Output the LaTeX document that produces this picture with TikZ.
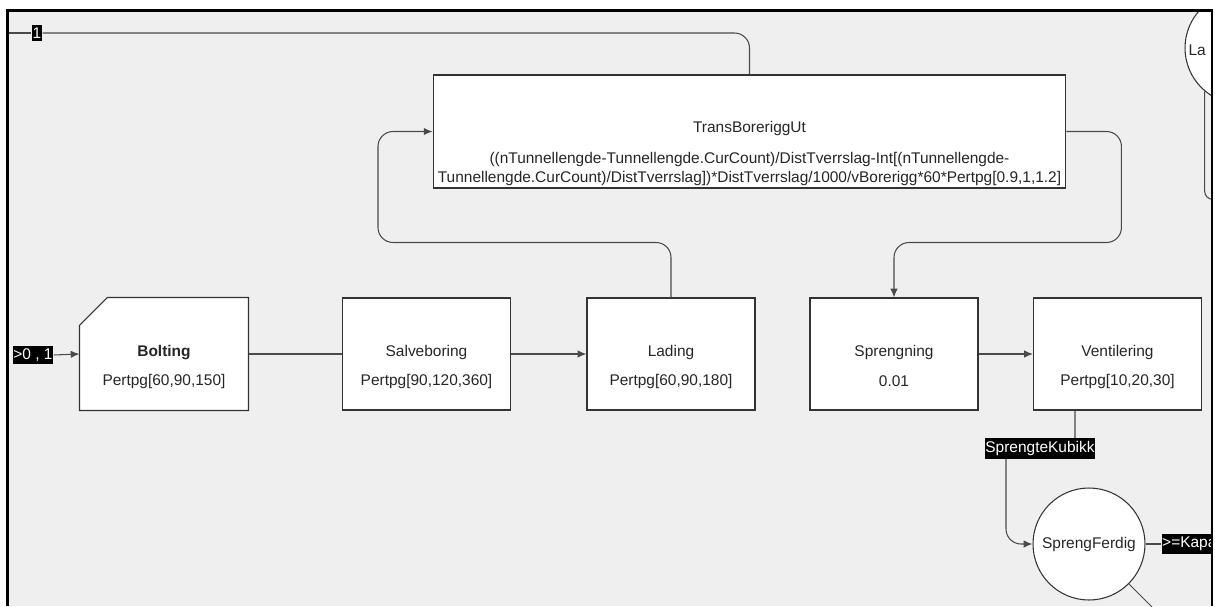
\documentclass[tikz,border=0pt]{standalone}
\usepackage{fontspec}
\setsansfont{Liberation Sans}
\usetikzlibrary{calc,arrows.meta,positioning}

\definecolor{canvas}{HTML}{EFEFEF}
\definecolor{linegray}{HTML}{4A4A4A}

\begin{document}
\begin{tikzpicture}[x=0.02cm,y=-0.02cm,>={Latex[length=5pt,width=4.2pt]},
    font=\sffamily\fontsize{8.8}{10.8}\selectfont,line width=0.6pt,
    proc/.style={draw=black!80,fill=white,minimum width=3.36cm,minimum height=2.24cm,inner sep=0pt},
    ptext/.style={align=center,inner sep=0pt,text=black!85},
    sink/.style={circle,draw=black!80,fill=white,minimum size=2.24cm,inner sep=0pt,text=black!85},
    tag/.style={fill=black,text=white,inner xsep=0.4pt,inner ysep=1.6pt},
    wire/.style={draw=linegray,rounded corners=0.3cm}]
    \fill [white] (0,0) rectangle (1215,606);
    \fill [canvas] (7.5,10.5) rectangle (1212,606);
    \useasboundingbox (0,0) rectangle (1215,606);

    \begin{scope}
    \clip (7.5,10.5) rectangle (1212,606);
    % process boxes
    \node [proc,draw=none,fill=none] (bolt) at (164,354) {};
    \filldraw [draw=black!80,fill=white] ([yshift=-0.56cm]bolt.north west) -- ([xshift=0.56cm]bolt.north west)
        -- (bolt.north east) -- (bolt.south east) -- (bolt.south west) -- cycle;
    \node [proc] (salve) at (426.5,354) {};
    \node [proc] (lading) at (671,354) {};
    \node [proc] (spreng) at (894,354) {};
    \node [proc] (vent) at (1117.5,354) {};
    \node [proc,minimum width=12.66cm,minimum height=2.26cm] (trans) at (749.5,131.5) {};

    \node [ptext] (boltT) at (164,367) {\textbf{Bolting}\\[6pt]Pertpg[60,90,150]};
    \node [ptext] (salveT) at (426.5,367) {Salveboring\\[6pt]Pertpg[90,120,360]};
    \node [ptext] (ladingT) at (671,367) {Lading\\[6pt]Pertpg[60,90,180]};
    \node [ptext] (sprengT) at (894,366) {Sprengning\\[6pt]0.01};
    \node [ptext] (ventT) at (1117.5,367) {Ventilering\\[6pt]Pertpg[10,20,30]};
    \node [ptext] (transT) at (749.5,153.5) {TransBoreriggUt\\[6.8pt]((nTunnellengde-Tunnellengde.CurCount)/DistTverrslag-Int[(nTunnellengde-\\Tunnellengde.CurCount)/DistTverrslag])*DistTverrslag/1000/vBorerigg*60*Pertpg[0.9,1,1.2]};

    % queues
    \node [sink] (ferdig) at (1089,544) {SprengFerdig};
    \node [sink] (lager) at (1241,48) {};
    \node [anchor=west,inner sep=0pt,text=black!85] (lagerT) at (1188,50) {La};

    % tags on the links
    \coordinate (src1) at (7.5,33);
    \node [tag] (one) at (37,33) {1};
    \node [tag] (in0) at (33,355) {>0 , 1};
    \node [tag] (kub) at (1040,448.5) {SprengteKubikk};
    \node [tag,anchor=west] (kapa) at (1161,544) {>=Kapa};

    % links
    \draw [wire] (src1) -- (one.west);
    \draw [wire] (one.east) -| (trans.north);
    \draw [wire,->] (in0.east) -- (bolt.west);
    \draw [wire] (bolt.east) -- (salve.west);
    \draw [wire,->] (salve.east) -- (lading.west);
    \draw [wire,->] (spreng.east) -- (vent.west);
    \draw [wire,->] (lading.north) |- ++(-293,-55) |- (trans.west);
    \draw [wire,->] (trans.east) -| ++(55,111) -| (spreng.north);
    \draw [wire] ([xshift=-0.85cm]vent.south) -- ([xshift=0.7cm]kub.north);
    \draw [wire,->] ([xshift=-0.68cm]kub.south) |- (ferdig.west);
    \draw [wire] (ferdig.east) -- (kapa.west);
    \draw [wire] (ferdig.-45) -- ++(25,25);
    \draw [wire,rounded corners=0.16cm] (lager.230) -- ++(0,108) -- ++(12,0);
    \end{scope}

    \draw [line width=1.4pt] (7.5,606) -- (7.5,10.5) -- (1212,10.5) -- (1212,606);
\end{tikzpicture}
\end{document}
